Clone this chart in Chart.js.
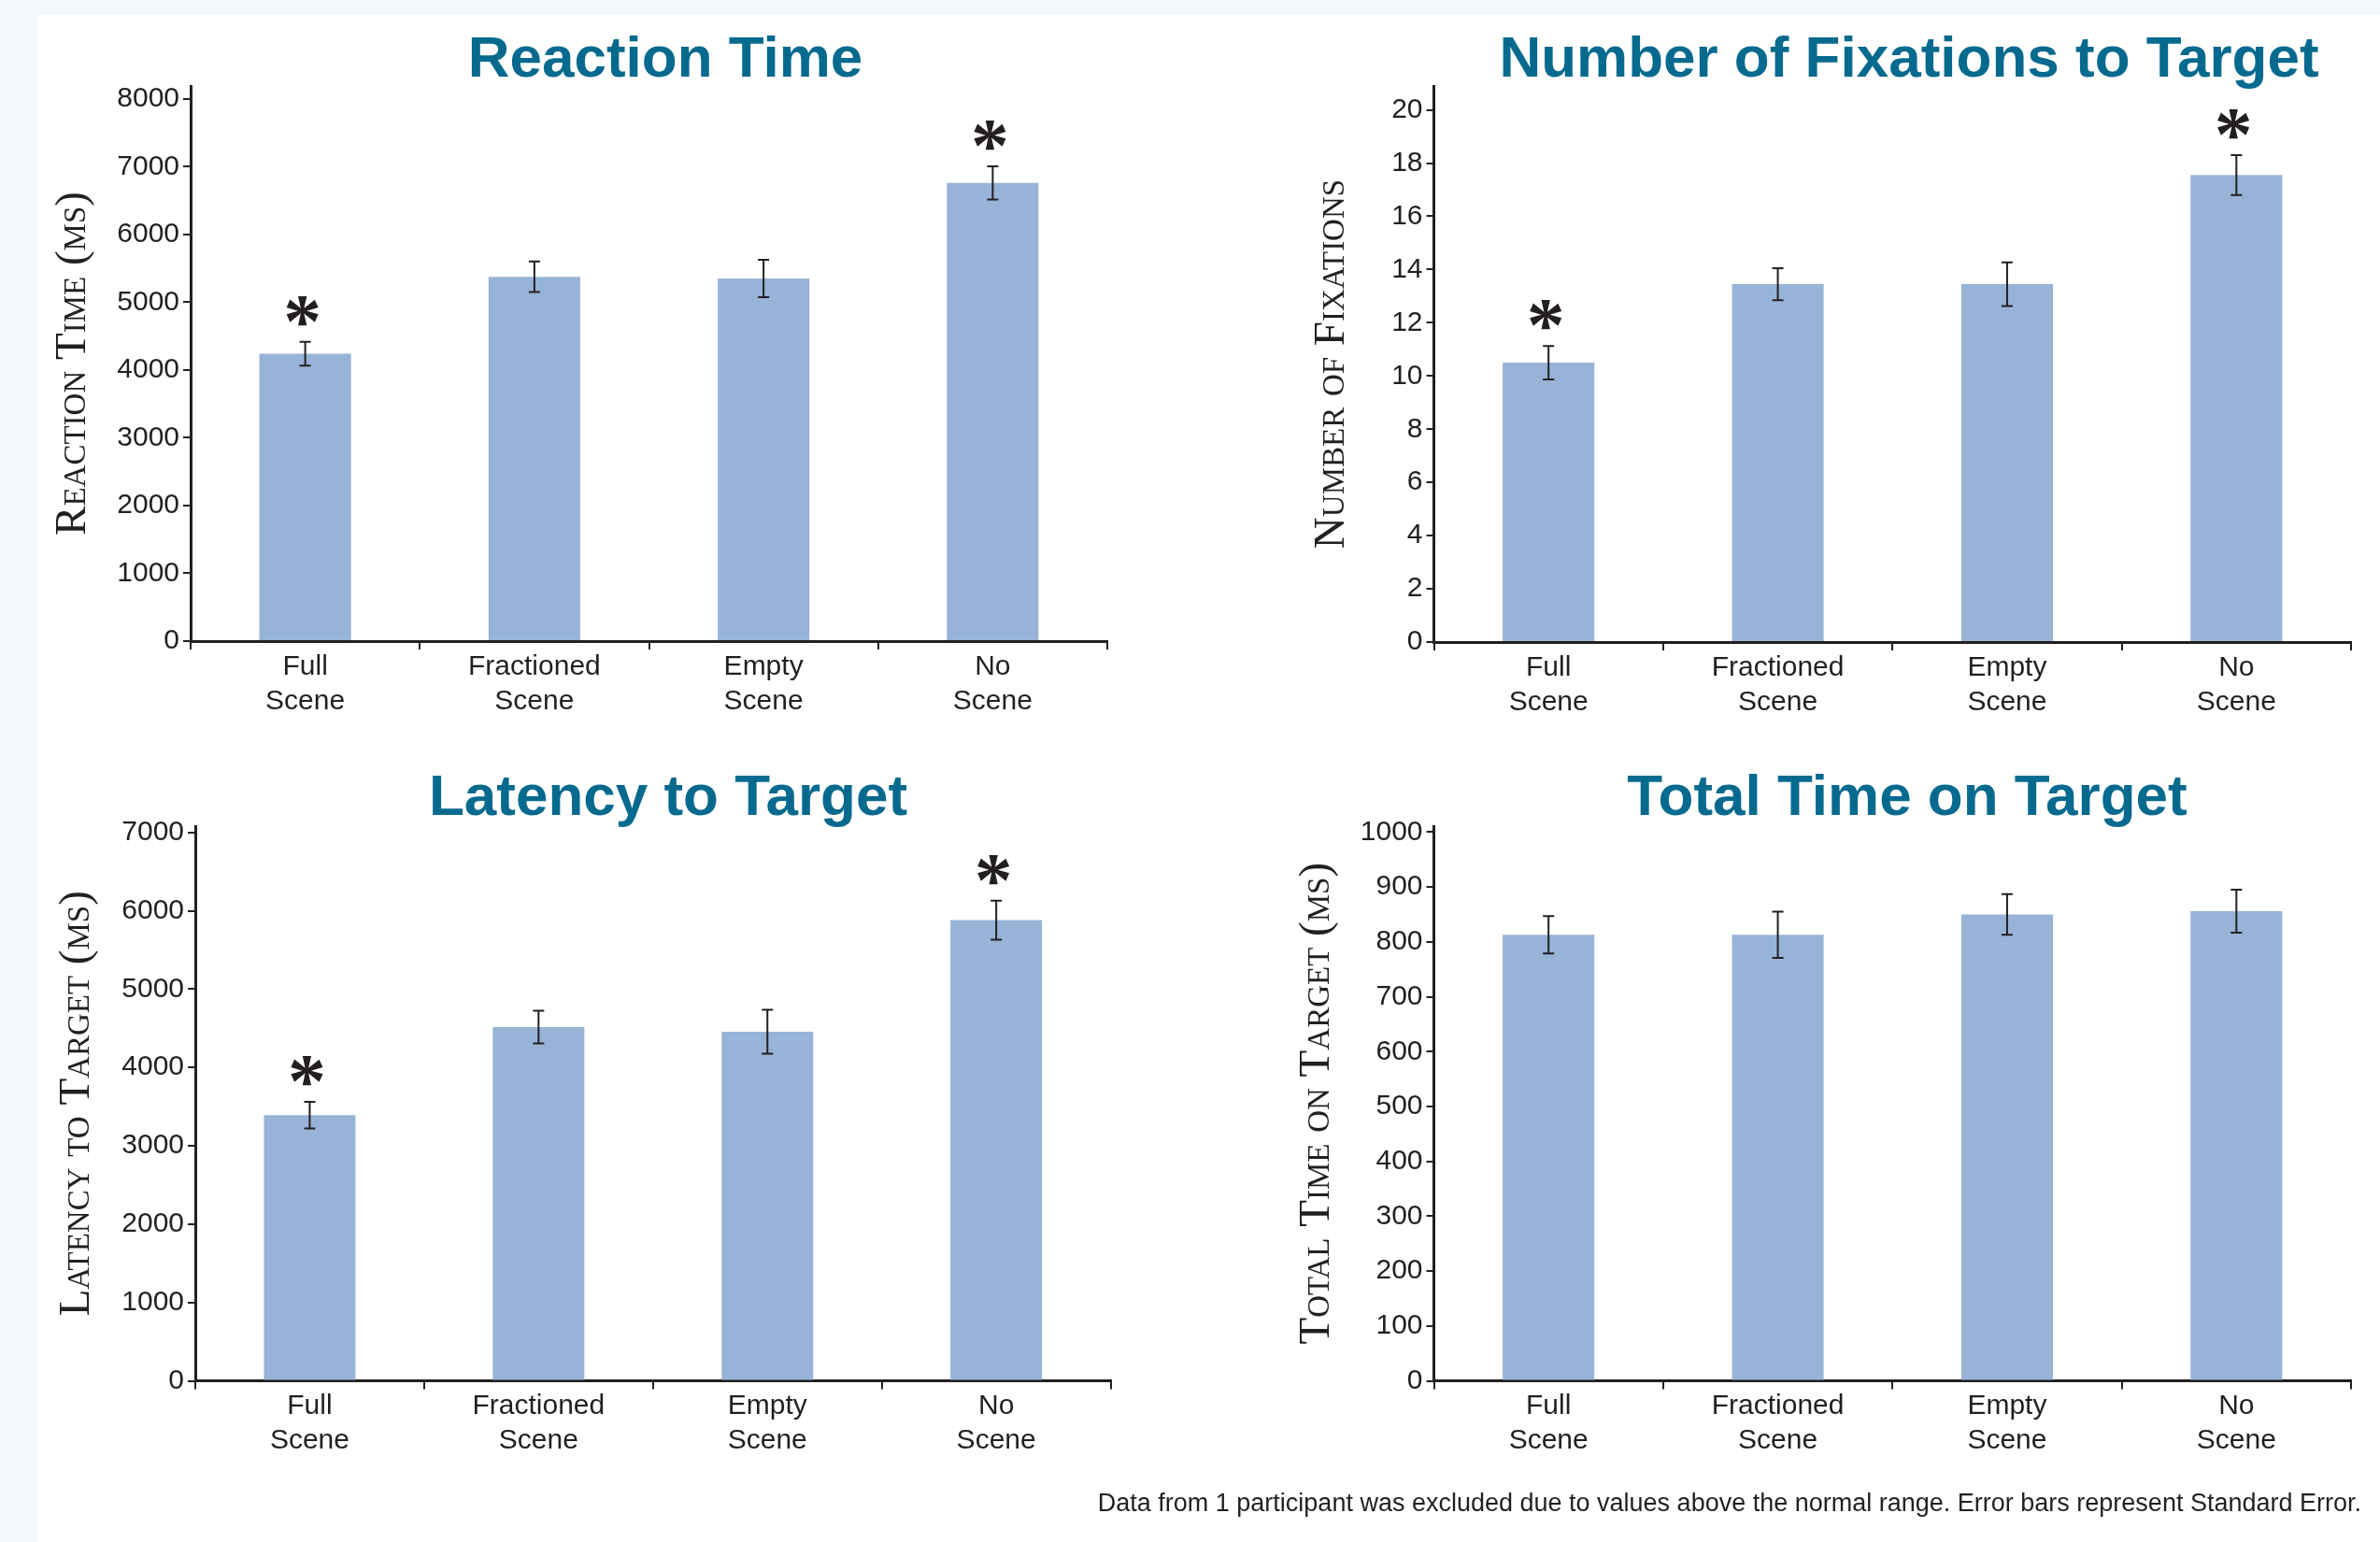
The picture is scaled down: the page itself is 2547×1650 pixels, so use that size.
<!DOCTYPE html>
<html>
<head>
<meta charset="utf-8">
<title>Scene conditions</title>
<script src="https://cdn.jsdelivr.net/npm/chart.js@4.4.1/dist/chart.umd.min.js"></script>
<style>
    html, body { margin: 0; padding: 0; width: 2547px; height: 1650px; overflow: hidden; background: #f4f8fb; }
    #panel { position: absolute; left: 40px; top: 16px; width: 2507px; height: 1634px; background: #fff; }
    canvas { position: absolute; }
    .title {
        position: absolute; white-space: nowrap; transform: translateX(-50%);
        font: bold 62px/62px "Liberation Sans", sans-serif; color: #066a8f;
    }
    #note {
        position: absolute; right: 20px; top: 1595px; white-space: nowrap;
        font: 27px/27px "Liberation Sans", sans-serif; color: #231f20;
    }
</style>
</head>
<body>
<div id="panel"></div>

<canvas id="reactionChart" width="1270" height="800" style="left:0;top:0"></canvas>
<canvas id="fixationChart" width="1267" height="800" style="left:1280px;top:0"></canvas>
<canvas id="latencyChart" width="1270" height="850" style="left:0;top:800px"></canvas>
<canvas id="timeOnChart" width="1267" height="850" style="left:1280px;top:800px"></canvas>

<div class="title" style="left:712px;top:30px">Reaction Time</div>
<div class="title" style="left:2043px;top:30px">Number of Fixations to Target</div>
<div class="title" style="left:715px;top:820px">Latency to Target</div>
<div class="title" style="left:2041px;top:820px">Total Time on Target</div>
<div id="note">Data from 1 participant was excluded due to values above the normal range. Error bars represent Standard Error.</div>

<script>
// values
const categories = [['Full', 'Scene'], ['Fractioned', 'Scene'], ['Empty', 'Scene'], ['No', 'Scene']];

const reactionMeans = [4240, 5375, 5350, 6760];
const reactionErrors = [175, 225, 275, 245];
const reactionStars = [true, false, false, true];
const reactionTicks = [0, 1000, 2000, 3000, 4000, 5000, 6000, 7000, 8000];

const fixationMeans = [10.5, 13.45, 13.45, 17.55];
const fixationErrors = [0.63, 0.6, 0.82, 0.75];
const fixationStars = [true, false, false, true];
const fixationTicks = [0, 2, 4, 6, 8, 10, 12, 14, 16, 18, 20];

const latencyMeans = [3390, 4515, 4455, 5880];
const latencyErrors = [170, 210, 280, 250];
const latencyStars = [true, false, false, true];
const latencyTicks = [0, 1000, 2000, 3000, 4000, 5000, 6000, 7000];

const timeOnMeans = [813, 813, 850, 856];
const timeOnErrors = [34, 42, 37, 39];
const timeOnStars = [false, false, false, false];
const timeOnTicks = [0, 100, 200, 300, 400, 500, 600, 700, 800, 900, 1000];

const BAR_COLOR = '#97b3d7';
const INK = '#231f20';
const SANS = '"Liberation Sans", Arial, sans-serif';
const SERIF = '"Liberation Serif", "Times New Roman", serif';

// error bars + significance stars, drawn on top of the bars
const errorBarPlugin = {
    id: 'errorBars',
    afterDatasetsDraw(chart) {
        const ctx = chart.ctx;
        const y = chart.scales.y;
        const ds = chart.data.datasets[0];
        const meta = chart.getDatasetMeta(0);
        ctx.save();
        ctx.strokeStyle = INK;
        ctx.lineWidth = 2;
        ctx.fillStyle = INK;

        ctx.font = 'bold 100px ' + SERIF;
        const probe = ctx.measureText('*');
        const starSize = 100 * 31 / (probe.actualBoundingBoxAscent + probe.actualBoundingBoxDescent);
        ctx.font = 'bold ' + starSize.toFixed(1) + 'px ' + SERIF;
        const m = ctx.measureText('*');

        meta.data.forEach((bar, i) => {
            const v = ds.data[i];
            const e = ds.errors[i];
            const cx = bar.x;
            const top = y.getPixelForValue(v + e);
            const bot = y.getPixelForValue(v - e);
            ctx.beginPath();
            ctx.moveTo(cx, top); ctx.lineTo(cx, bot);
            ctx.moveTo(cx - 6, top); ctx.lineTo(cx + 6, top);
            ctx.moveTo(cx - 6, bot); ctx.lineTo(cx + 6, bot);
            ctx.stroke();

            if (ds.stars[i]) {
                const glyphBottom = top - 17;
                const w = m.actualBoundingBoxRight - m.actualBoundingBoxLeft;
                ctx.textAlign = 'left';
                ctx.textBaseline = 'alphabetic';
                ctx.fillText('*', cx - w / 2 + m.actualBoundingBoxLeft, glyphBottom - m.actualBoundingBoxDescent);
            }
        });
        ctx.restore();
    }
};

function drawChart(canvasId, o) {
    const ctx = document.getElementById(canvasId).getContext('2d');
    return new Chart(ctx, {
        type: 'bar',
        data: {
            labels: categories,
            datasets: [{
                data: o.means,
                errors: o.errors,
                stars: o.stars,
                backgroundColor: BAR_COLOR,
                borderWidth: 0,
                barPercentage: 0.4,
                categoryPercentage: 1
            }]
        },
        options: {
            responsive: false,
            animation: false,
            devicePixelRatio: 1,
            layout: { padding: { top: o.top, right: o.right, left: 0, bottom: 0 } },
            plugins: { legend: { display: false }, tooltip: { enabled: false } },
            scales: {
                x: {
                    offset: true,
                    grid: { offset: true, drawOnChartArea: false, tickLength: 9, lineWidth: 2, color: INK },
                    border: { color: INK, width: 3 },
                    ticks: { color: INK, padding: 0, autoSkip: false, maxRotation: 0,
                             font: { family: SANS, size: 30, lineHeight: 37 / 30 } },
                    afterFit: s => { s.height = o.xHeight; }
                },
                y: {
                    min: 0,
                    max: o.max,
                    grid: { drawOnChartArea: false, tickLength: 8, lineWidth: 2, color: INK },
                    border: { color: INK, width: 3 },
                    ticks: { color: INK, padding: 4, font: { family: SANS, size: 30 }, callback: v => String(v) },
                    afterBuildTicks: a => { a.ticks = o.ticks.map(v => ({ value: v })); },
                    afterFit: s => { s.width = o.yWidth; },
                    title: {
                        display: true,
                        text: o.yTitle,
                        color: INK,
                        font: { family: SERIF, size: 47, weight: 'small-caps' },
                        padding: { top: o.titlePad, bottom: 0 }
                    }
                }
            }
        },
        plugins: [errorBarPlugin]
    });
}

drawChart('reactionChart', {
    means: reactionMeans, errors: reactionErrors, stars: reactionStars, ticks: reactionTicks,
    max: 8190, yTitle: 'Reaction Time (ms)',
    top: 92, right: 85, xHeight: 114, yWidth: 204, titlePad: 50
});

drawChart('fixationChart', {
    means: fixationMeans, errors: fixationErrors, stars: fixationStars, ticks: fixationTicks,
    max: 20.9, yTitle: 'Number of Fixations',
    top: 92, right: 31, xHeight: 113, yWidth: 254.5, titlePad: 117
});

drawChart('latencyChart', {
    means: latencyMeans, errors: latencyErrors, stars: latencyStars, ticks: latencyTicks,
    max: 7080, yTitle: 'Latency to Target (ms)',
    top: 84, right: 81.4, xHeight: 172.5, yWidth: 209, titlePad: 54
});

drawChart('timeOnChart', {
    means: timeOnMeans, errors: timeOnErrors, stars: timeOnStars, ticks: timeOnTicks,
    max: 1011, yTitle: 'Total Time on Target (ms)',
    top: 84, right: 31, xHeight: 172.5, yWidth: 254.5, titlePad: 101
});
</script>
</body>
</html>
